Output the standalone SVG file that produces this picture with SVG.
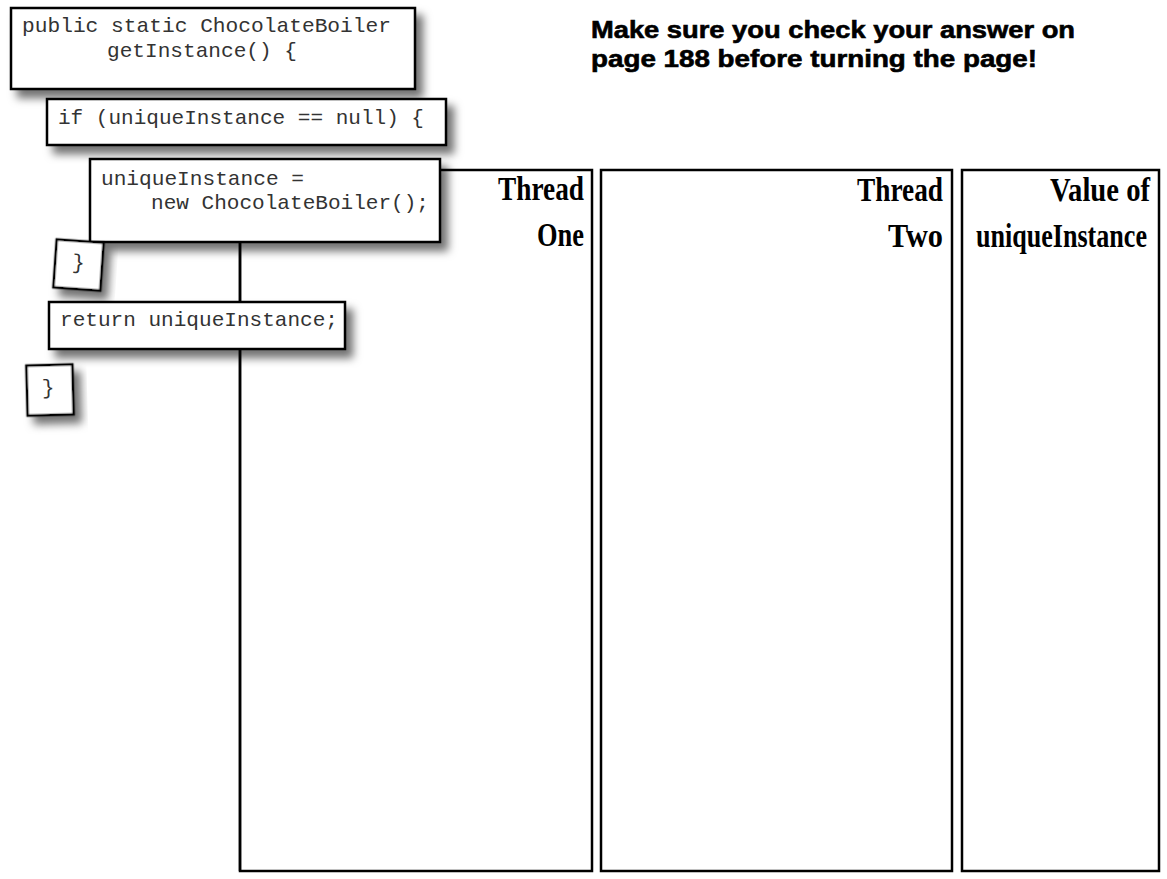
<svg xmlns="http://www.w3.org/2000/svg" width="1167" height="879" viewBox="0 0 1167 879">
<style>
.box{fill:#fff;stroke:#000;stroke-width:2.5}
.code{font-family:"Liberation Mono","Courier New",monospace;font-size:21px;fill:#333}
.col{fill:#fff;stroke:#000;stroke-width:2.5}
.hand{font-family:"Liberation Serif","DejaVu Serif",serif;font-size:33px;font-weight:bold;fill:#000;text-anchor:end}
.head{font-family:"Liberation Sans",Arial,sans-serif;font-weight:bold;font-size:23.5px;fill:#000;stroke:#000;stroke-width:0.6}
.ln{stroke:#000;stroke-width:2.5;fill:none}
</style>
<defs>
<filter id="sh" x="-20%" y="-20%" width="150%" height="160%">
<feDropShadow dx="7" dy="8" stdDeviation="4" flood-color="#000" flood-opacity="0.55"/>
</filter>
</defs>
<rect width="1167" height="879" fill="#fff"/>
<text class="head" x="591" y="38" textLength="484" lengthAdjust="spacingAndGlyphs">Make sure you check your answer on</text>
<text class="head" x="591" y="67" textLength="446" lengthAdjust="spacingAndGlyphs">page 188 before turning the page!</text>
<g id="col-thread-one">
<rect class="col" x="240" y="170" width="352" height="701"/>
<text class="hand" x="584" y="200" textLength="86" lengthAdjust="spacingAndGlyphs">Thread</text>
<text class="hand" x="584" y="246" textLength="47" lengthAdjust="spacingAndGlyphs">One</text>
</g>
<g id="col-thread-two">
<rect class="col" x="601" y="170" width="351" height="701"/>
<text class="hand" x="943" y="201" textLength="86" lengthAdjust="spacingAndGlyphs">Thread</text>
<text class="hand" x="943" y="247" textLength="55" lengthAdjust="spacingAndGlyphs">Two</text>
</g>
<g id="col-value">
<rect class="col" x="962" y="170" width="197" height="701"/>
<text class="hand" x="1150" y="201" textLength="100" lengthAdjust="spacingAndGlyphs">Value of</text>
<text class="hand" x="1147" y="247" textLength="171" lengthAdjust="spacingAndGlyphs">uniqueInstance</text>
</g>
<g id="connectors">
<line class="ln" x1="240" y1="242" x2="240" y2="302"/>
<line class="ln" x1="240" y1="349" x2="240" y2="871"/>
</g>
<g id="node-signature">
<rect class="box" x="11" y="8" width="404" height="81" filter="url(#sh)"/>
<text class="code" x="22" y="32" textLength="369" lengthAdjust="spacingAndGlyphs">public static ChocolateBoiler</text>
<text class="code" x="107" y="57" textLength="190" lengthAdjust="spacingAndGlyphs">getInstance() {</text>
</g>
<g id="node-if">
<rect class="box" x="47" y="99" width="399" height="46" filter="url(#sh)"/>
<text class="code" x="58" y="124" textLength="366" lengthAdjust="spacingAndGlyphs">if (uniqueInstance == null) {</text>
</g>
<g id="node-assign">
<rect class="box" x="90" y="159" width="350" height="83" filter="url(#sh)"/>
<text class="code" x="101" y="185" textLength="203" lengthAdjust="spacingAndGlyphs">uniqueInstance =</text>
<text class="code" x="151" y="209" textLength="278" lengthAdjust="spacingAndGlyphs">new ChocolateBoiler();</text>
</g>
<g id="node-brace1" transform="rotate(4 78 265)">
<rect class="box" x="55" y="241" width="47" height="48" filter="url(#sh)"/>
<text class="code" x="72" y="269">}</text>
</g>
<g id="node-return">
<rect class="box" x="49" y="302" width="296" height="47" filter="url(#sh)"/>
<text class="code" x="60" y="326" textLength="278" lengthAdjust="spacingAndGlyphs">return uniqueInstance;</text>
</g>
<g id="node-brace2" transform="rotate(-1.5 50 390)">
<rect class="box" x="27" y="365" width="46" height="50" filter="url(#sh)"/>
<text class="code" x="42" y="394">}</text>
</g>
</svg>
